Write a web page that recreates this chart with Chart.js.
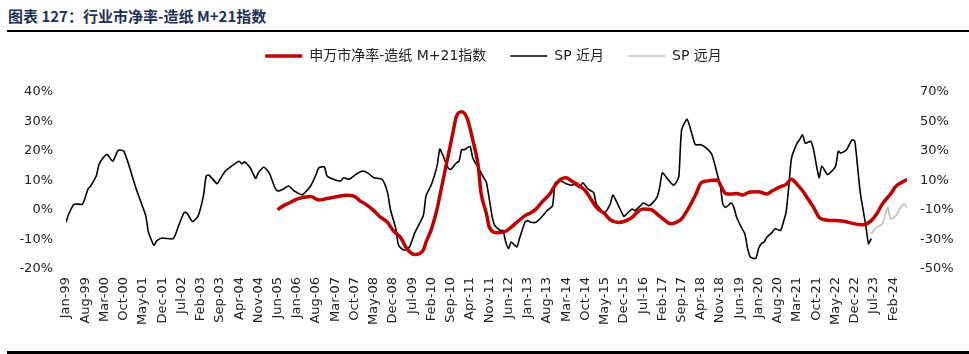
<!DOCTYPE html>
<html>
<head>
<meta charset="utf-8">
<script src="https://cdn.jsdelivr.net/npm/chart.js@4"></script>
<style>
  body{margin:0;background:#fff;width:969px;height:354px;overflow:hidden;position:relative;font-family:"DejaVu Sans","Noto Sans CJK SC",sans-serif}
  #title{position:absolute;left:8px;top:5px;font:bold 15px "Noto Sans CJK SC",sans-serif;color:#1f3157;white-space:nowrap}
  #rule-top{position:absolute;left:7px;right:0;top:30px;height:2px;background:#000}
  #rule-bottom{position:absolute;left:7px;right:0;top:351px;height:3px;background:#000}
  #wrap{position:absolute;left:0;top:20px;width:969px;height:330px}
</style>
</head>
<body>
<div id="title">图表 127：行业市净率-造纸 M+21指数</div>
<div id="rule-top"></div>
<div id="wrap"><canvas id="chart"></canvas></div>
<div id="rule-bottom"></div>
<script>
/* ============================
   data (x = months since Jan-99)
============================ */
const monthNames = ['Jan','Feb','Mar','Apr','May','Jun','Jul','Aug','Sep','Oct','Nov','Dec'];
const tickStep = 7;            // one x label every 7 months, Jan-99 ... Feb-24
const lastMonth = 306;         // Jul-24

// 申万市净率-造纸 M+21指数 (left axis, %)
const pbMonths = [77,79,81,84,86,89,92,95,99,102,105,107,109,112,114,117,119,122,124,127,130,131,133,135,137,139,141,142,144,146,148,150,151,153,154,157,160,162,164,167,169,171,173,176,178,180,182,184,187,189,191,193,196,198,201,203,206,208,210,213,215,218,220,222,224,226,229,231,233,237,238,240,242,244,246,249,252,255,257,260,262,264,266,268,270,272,274,276,280,283,287,290,293,295,297,300,302,305,306];
const pbValues = [0.1,1.4,2.3,3.7,4.2,4.6,3.4,3.9,4.6,5.0,4.6,3.1,2.0,-0.2,-2.1,-4.2,-6.9,-9.7,-13.1,-15.1,-13.6,-10.9,-6.4,0.3,9.3,18.2,27.2,31.6,33.3,31.0,23.8,14.9,5.9,-1.3,-5.8,-7.7,-7.2,-5.8,-4.2,-1.9,-1.0,0.3,2.5,5.4,8.4,10.4,10.9,9.8,8.1,6.5,3.7,0.9,-1.3,-3.3,-4.2,-3.9,-2.5,-0.6,0.3,0.1,-1.3,-3.6,-4.7,-4.2,-3.0,-0.2,5.0,9.1,9.8,10.2,8.7,5.6,5.4,5.6,5.1,6.1,6.2,5.4,6.5,7.9,8.7,10.4,8.7,6.5,3.7,0.9,-2.5,-3.3,-3.6,-3.8,-4.7,-5.0,-3.6,-1.3,2.0,5.4,8.1,9.8,10.4];

// SP 近月 (right axis, %)
const spNearMonths = [0,1,3,6,8,9,11,12,14,15,17,19,21,23,25,26,29,30,32,33,35,39,41,43,44,46,48,50,51,52,55,56,58,61,63,64,65,67,69,70,72,74,76,77,79,81,83,84,86,89,91,92,94,95,98,100,101,103,105,106,108,110,112,115,117,118,120,121,123,125,127,130,131,133,135,136,137,139,140,142,143,144,145,147,148,150,152,153,155,156,158,159,160,161,162,164,165,167,168,169,171,173,175,177,178,180,182,184,185,187,188,190,192,193,196,198,199,201,203,204,206,207,209,210,212,213,215,216,217,219,221,222,223,224,226,228,229,231,233,235,237,238,239,240,242,243,244,246,247,248,249,251,252,253,254,255,257,258,260,261,262,263,264,266,267,268,269,271,272,274,275,277,278,280,281,282,284,286,287,288,289,291,292,293];
const spNearValues = [-18.3,-12.7,-6.0,-6.0,4.1,6.3,13.0,20.8,26.4,27.6,23.1,30.4,29.8,19.7,7.4,1.8,-13.8,-25.0,-33.9,-31.0,-29.0,-29.4,-20.5,-11.6,-12.0,-17.8,-14.3,-0.4,13.0,13.7,7.8,10.8,16.4,20.8,23.1,21.3,22.6,18.6,11.5,15.2,19.0,14.8,5.2,2.9,4.1,6.3,2.9,1.8,0.3,6.3,14.1,18.6,19.2,13.0,10.3,9.7,11.9,10.8,13.5,14.8,16.4,14.8,11.9,10.8,1.8,-9.3,-22.7,-33.9,-37.3,-35.1,-25.0,-13.8,-0.4,7.4,19.7,31.3,27.6,18.6,17.5,21.9,23.1,30.9,30.9,33.1,25.3,18.6,11.9,8.5,-13.8,-20.5,-23.9,-23.9,-31.7,-36.1,-31.7,-35.1,-29.4,-18.3,-17.2,-18.3,-18.3,-14.9,-10.5,-7.1,8.5,9.7,7.8,6.8,7.4,5.2,8.5,4.1,1.8,-6.0,-11.6,-6.0,0.1,-7.1,-14.3,-12.7,-9.3,-10.5,-7.1,-5.3,-7.1,-6.0,-1.5,5.2,15.2,10.8,6.8,8.5,13.0,44.3,51.4,39.8,34.3,34.3,32.0,27.6,14.1,7.4,-6.0,-8.2,-5.3,-8.2,-14.9,-22.7,-26.1,-36.1,-41.8,-42.8,-36.1,-32.8,-31.7,-28.4,-25.0,-22.7,-23.9,-18.3,-11.6,6.3,25.3,35.3,38.0,41.0,35.3,36.5,30.9,11.9,19.7,14.1,15.2,19.7,29.8,28.6,30.9,37.6,36.5,19.7,1.8,-20.5,-32.8,-29.4];

// SP 远月 (right axis, %)
const spFarMonths = [293,295,297,299,300,302,304,305,306];
const spFarValues = [-26.1,-21.7,-19.4,-8.2,-16.0,-13.8,-7.1,-6.0,-8.2];

const leftTicks = {min:-20, max:40, step:10};
const rightTicks = {min:-50, max:70, step:20};

function monthLabel(m){
  const y = (99 + Math.floor(m/12)) % 100;
  return monthNames[m%12] + '-' + String(y).padStart(2,'0');
}
const pts = (xs, ys) => xs.map((x,i)=>({x, y: ys[i]}));

const tickFont = { family: '"DejaVu Sans", sans-serif', size: 13 };

// extra gap between legend and plot
const legendGap = {
  id:'legendGap',
  beforeInit(chart){
    const fit = chart.legend.fit;
    chart.legend.fit = function(){ fit.bind(chart.legend)(); this.height += 19; };
  }
};

new Chart(document.getElementById('chart'), {
  type: 'line',
  data: {
    datasets: [
      { label:'申万市净率-造纸 M+21指数', data: pts(pbMonths, pbValues), yAxisID:'y',
        borderColor:'#c00000', backgroundColor:'#c00000', borderWidth:3.5, pointRadius:0, tension:0.4, cubicInterpolationMode:'monotone' },
      { label:'SP 近月', data: pts(spNearMonths, spNearValues), yAxisID:'y1',
        borderColor:'#000000', backgroundColor:'#000000', borderWidth:1.6, pointRadius:0, tension:0.2 },
      { label:'SP 远月', data: pts(spFarMonths, spFarValues), yAxisID:'y1',
        borderColor:'#bfbfbf', backgroundColor:'#bfbfbf', borderWidth:1.6, pointRadius:0, tension:0.2 }
    ]
  },
  options: {
    responsive:true, maintainAspectRatio:false, animation:false,
    layout:{ padding:{ top:5, left:18, right:0, bottom:0 } },
    plugins:{
      legend:{ position:'top', align:'center',
        labels:{ usePointStyle:true, pointStyle:'line', pointStyleWidth:37, padding:24, color:'#222',
          font:{ family:'"DejaVu Sans", "Noto Sans CJK SC", sans-serif', size:14 } } },
      tooltip:{ enabled:false }
    },
    scales:{
      x:{ type:'linear', min:0, max:lastMonth,
        grid:{ display:false, drawTicks:false }, border:{ display:false },
        ticks:{ stepSize:tickStep, includeBounds:false, autoSkip:false, maxRotation:90, minRotation:90,
          padding:8, color:'#222', font:tickFont, callback:v => monthLabel(v) },
        afterFit: s => { s.height = 81; } },
      y:{ position:'left', min:leftTicks.min, max:leftTicks.max,
        grid:{ display:false, drawTicks:false }, border:{ display:false },
        ticks:{ stepSize:leftTicks.step, padding:13, color:'#222', font:tickFont, callback:v => v + '%' },
        afterFit: s => { s.width = 48; } },
      y1:{ position:'right', min:rightTicks.min, max:rightTicks.max,
        grid:{ display:false, drawTicks:false }, border:{ display:false },
        ticks:{ stepSize:rightTicks.step, padding:13, color:'#222', font:tickFont, callback:v => v + '%' },
        afterFit: s => { s.width = 62; } }
    }
  },
  plugins:[legendGap]
});
</script>
</body>
</html>
